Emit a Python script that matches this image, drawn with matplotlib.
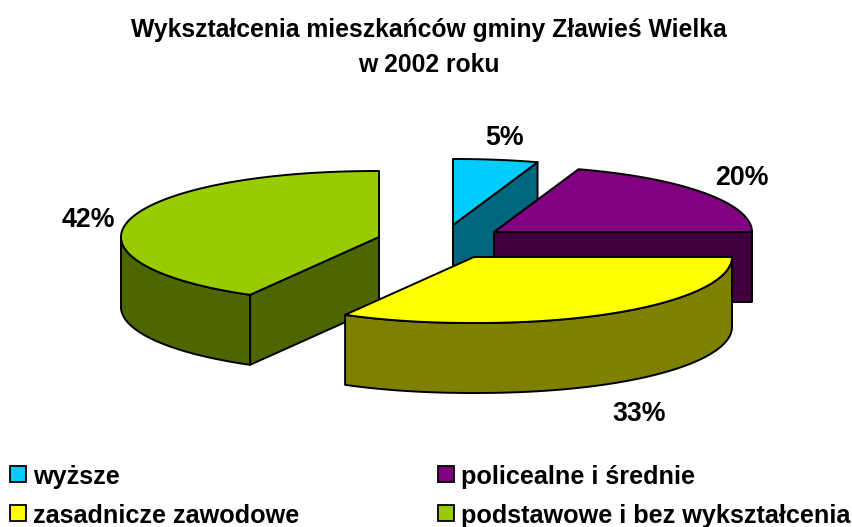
#!/usr/bin/env python
# -*- coding=utf-8 -*-
import numpy as np
import matplotlib
matplotlib.use('Agg')
import matplotlib.pyplot as plt
from matplotlib.patches import Polygon, Rectangle

plt.rcParams['font.family'] = ['Liberation Sans', 'DejaVu Sans']

# dane
categories = ['wyższe', 'policealne i średnie', 'zasadnicze zawodowe', 'podstawowe i bez wykształcenia']
values = [5, 20, 33, 42]
top_colors = ['#00CCFF', '#800080', '#FFFF00', '#99CC00']
side_colors = ['#006680', '#400040', '#808000', '#4D6600']

# polozenie wierzcholkow wycinkow (wysuniety wykres), piksele
apex_x = [453, 494, 474, 379]
apex_y = [225, 232, 257, 237]
label_xy = [(505, 145), (742, 185), (639, 421), (88, 227)]
legend_xy = [(10, 466), (438, 466), (10, 505), (438, 505)]
legend_base = [484, 484, 523, 523]

rx, ry, depth = 258, 66, 70

fig = plt.figure(figsize=(8.53, 5.27), dpi=100)
ax = fig.add_axes([0, 0, 1, 1])
ax.set_xlim(0, 853)
ax.set_ylim(527, 0)
ax.axis('off')


def rim(i, deg):
    # punkt na obwodzie elipsy, kat liczony od godziny 12 zgodnie ze wskazowkami
    t = np.radians(deg)
    s = np.sin(t)
    x = apex_x[i] + rx * np.sign(s) * np.abs(s) ** 0.95
    y = apex_y[i] - ry * np.cos(t)
    return x, y


def face(points, color, z):
    ax.add_patch(Polygon(points, closed=True, facecolor=color, edgecolor='black',
                         linewidth=1.4, joinstyle='round', zorder=z))


# katy wycinkow
edges = np.cumsum([0] + values) * 3.6
# kolejnosc rysowania: od tylu do przodu
order = [0, 1, 3, 2]
for z, i in enumerate(order):
    a0, a1 = edges[i], edges[i + 1]
    base = z * 10
    apex = (apex_x[i], apex_y[i])
    # sciany promieniowe widoczne od przodu
    for deg, visible in ((a0, a0 > 180), (a1, a1 < 180)):
        if visible:
            x, y = rim(i, deg)
            face([apex, (x, y), (x, y + depth), (apex[0], apex[1] + depth)],
                 side_colors[i], base + 1)
    # sciana zewnetrzna
    w0, w1 = max(a0, 90), min(a1, 270)
    if w1 > w0:
        xs, ys = rim(i, np.linspace(w0, w1, 120))
        upper = np.column_stack([xs, ys])
        lower = np.column_stack([xs, ys + depth])[::-1]
        face(np.vstack([upper, lower]), side_colors[i], base + 2)
    # wierzch
    xs, ys = rim(i, np.linspace(a0, a1, 160))
    face(np.vstack([[apex], np.column_stack([xs, ys])]), top_colors[i], base + 3)
    # etykieta
    ax.text(label_xy[i][0], label_xy[i][1], '%d%%' % values[i], fontsize=19.3, fontweight='bold',
            ha='center', va='baseline', zorder=100)

# tytul
ax.text(429, 37, 'Wykształcenia mieszkańców gminy Zławieś Wielka', fontsize=17.8, fontweight='bold',
        ha='center', va='baseline')
ax.text(429, 72, 'w 2002 roku', fontsize=17.8, fontweight='bold', ha='center', va='baseline')

# legenda
for i, name in enumerate(categories):
    x, y = legend_xy[i]
    ax.add_patch(Rectangle((x, y), 16, 16, facecolor=top_colors[i], edgecolor='black', linewidth=1.3))
    ax.text(x + 23, legend_base[i], name, fontsize=18.2, fontweight='bold', ha='left', va='baseline')

plt.savefig('out.png', dpi=100)
